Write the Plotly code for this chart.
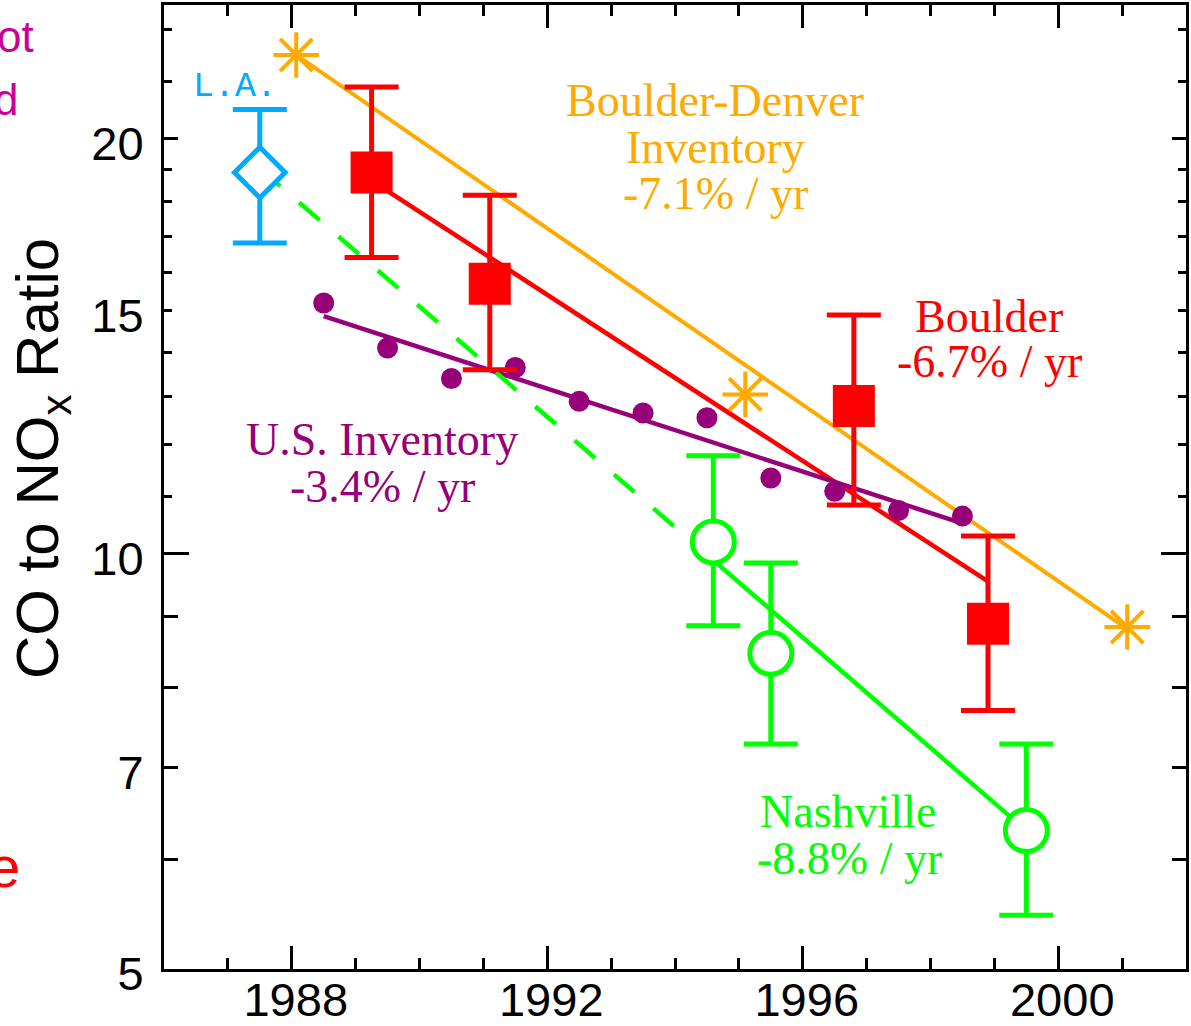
import numpy as np
import plotly.graph_objects as go

# ---------------- data ----------------
# Los Angeles measurement
LA_YEAR = [1987.5]
LA_RATIO = [18.9]
LA_HIGH = [21.0]
LA_LOW = [16.8]

# Boulder measurements (ratio with uncertainty range)
BOULDER_YEAR = [1989.25, 1991.1, 1996.8, 1998.9]
BOULDER_RATIO = [18.9, 15.7, 12.8, 8.9]
BOULDER_HIGH = [21.8, 18.2, 14.9, 10.3]
BOULDER_LOW = [16.4, 13.6, 10.85, 7.7]
BOULDER_RATE = -6.7          # % per year
BOULDER_FIT_START = 18.65    # fitted ratio at the first Boulder year

# Boulder-Denver emission inventory
BD_YEAR = [1988.07, 1995.1, 2001.08]
BD_RATIO = [23.0, 13.05, 8.85]
BD_RATE = -7.1
BD_FIT_START = 23.0

# Nashville measurements
NASH_YEAR = [1994.6, 1995.5, 1999.5]
NASH_RATIO = [10.2, 8.47, 6.3]
NASH_HIGH = [11.78, 9.85, 7.28]
NASH_LOW = [8.87, 7.28, 5.47]
NASH_RATE = -8.8
NASH_FIT_END = 6.3           # fitted ratio at the last Nashville year

# U.S. national emission inventory
US_YEAR = [1988.5, 1989.5, 1990.5, 1991.5, 1992.5, 1993.5,
           1994.5, 1995.5, 1996.5, 1997.5, 1998.5]
US_RATIO = [15.2, 14.1, 13.4, 13.65, 12.9, 12.65,
            12.55, 11.35, 11.1, 10.75, 10.65]
US_RATE = -3.4
US_FIT_START = 14.87

# axis ticks
X_MAJOR = [1988, 1992, 1996, 2000]
X_MINOR = [1987, 1989, 1990, 1991, 1993, 1994, 1995, 1997, 1998, 1999, 2001]
Y_LABELS = [5, 7, 10, 15, 20]
Y_DECADE = [10]
Y_MID = [6, 7, 8, 9, 20]
Y_SMALL = [11, 12, 13, 14, 15, 16, 17, 18, 19, 22, 24]

# ---------------- colours / fonts ----------------
RED = "#FF0000"
ORANGE = "#FFAA00"
GREEN = "#00FF00"
PURPLE = "#960078"
SKY = "#00AAFF"
MAGENTA = "#CC0099"
SERIF = "Liberation Serif, Times New Roman, serif"
SANS = "Liberation Sans, Arial, sans-serif"
MONO = "Liberation Mono, Courier New, monospace"

W, H = 1191, 1026
ML, MR, MT, MB = 164, 5, 5, 57
PW, PH = W - ML - MR, H - MT - MB


def trend(y0, t0, rate, years):
    """Constant-percentage trend evaluated at the given years."""
    return [y0 * (1 + rate / 100.0) ** (t - t0) for t in years]


def px(x):
    return (x - ML) / PW


def py(y):
    return (H - MB - y) / PH


fig = go.Figure()

# ---- trend lines ----
bd_span = [BD_YEAR[0], BD_YEAR[-1]]
fig.add_trace(go.Scatter(x=bd_span, y=trend(BD_FIT_START, BD_YEAR[0], BD_RATE, bd_span),
                         mode="lines", line=dict(color=ORANGE, width=4)))

b_span = [BOULDER_YEAR[0], BOULDER_YEAR[-1]]
fig.add_trace(go.Scatter(x=b_span, y=trend(BOULDER_FIT_START, BOULDER_YEAR[0], BOULDER_RATE, b_span),
                         mode="lines", line=dict(color=RED, width=4.5)))

us_span = [US_YEAR[0], US_YEAR[-1]]
fig.add_trace(go.Scatter(x=us_span, y=trend(US_FIT_START, US_YEAR[0], US_RATE, us_span),
                         mode="lines", line=dict(color=PURPLE, width=4.5)))

n_span = [NASH_YEAR[0], NASH_YEAR[-1]]
fig.add_trace(go.Scatter(x=n_span, y=trend(NASH_FIT_END, NASH_YEAR[-1], NASH_RATE, n_span),
                         mode="lines", line=dict(color=GREEN, width=4.5)))

# Nashville trend carried back to the L.A. year
n_back = [LA_YEAR[0], NASH_YEAR[0]]
fig.add_trace(go.Scatter(x=n_back, y=trend(NASH_FIT_END, NASH_YEAR[-1], NASH_RATE, n_back),
                         mode="lines", line=dict(color=GREEN, width=4.5, dash="27px,25px")))

# ---- measurement markers ----
def err(vals, hi, lo, color):
    return dict(type="data", symmetric=False,
                array=[h - v for v, h in zip(vals, hi)],
                arrayminus=[v - l for v, l in zip(vals, lo)],
                color=color, thickness=5, width=27)


fig.add_trace(go.Scatter(x=US_YEAR, y=US_RATIO, mode="markers",
                         marker=dict(symbol="circle", size=21, color=PURPLE)))

fig.add_trace(go.Scatter(x=BD_YEAR, y=BD_RATIO, mode="markers",
                         marker=dict(symbol="asterisk-open", size=38, color=ORANGE,
                                     line=dict(color=ORANGE, width=4))))

fig.add_trace(go.Scatter(x=BOULDER_YEAR, y=BOULDER_RATIO, mode="markers",
                         error_y=err(BOULDER_RATIO, BOULDER_HIGH, BOULDER_LOW, RED),
                         marker=dict(symbol="square", size=42, color=RED, line=dict(width=0))))

fig.add_trace(go.Scatter(x=NASH_YEAR, y=NASH_RATIO, mode="markers",
                         error_y=err(NASH_RATIO, NASH_HIGH, NASH_LOW, GREEN),
                         marker=dict(symbol="circle", size=42, color="white",
                                     line=dict(color=GREEN, width=5))))

fig.add_trace(go.Scatter(x=LA_YEAR, y=LA_RATIO, mode="markers",
                         error_y=err(LA_RATIO, LA_HIGH, LA_LOW, SKY),
                         marker=dict(symbol="diamond", size=39, color="white",
                                     line=dict(color=SKY, width=5))))

# placeholders so the tick-only overlay axes get drawn
fig.add_trace(go.Scatter(x=[None], y=[None], yaxis="y2", mode="markers"))
fig.add_trace(go.Scatter(x=[None], y=[None], yaxis="y3", mode="markers"))

# ---------------- text labels ----------------
ann = []


def label(text, x, y, color, size=46, family=SERIF, xanchor="center", angle=0):
    ann.append(dict(text=text, x=px(x), y=py(y), xref="paper", yref="paper",
                    xanchor=xanchor, yanchor="middle", showarrow=False,
                    textangle=angle, font=dict(family=family, size=size, color=color)))


label("Boulder-Denver", 715, 101, ORANGE)
label("Inventory", 715, 147, ORANGE)
label("-7.1% / yr", 715, 194, ORANGE)
label("Boulder", 989, 317, RED)
label("-6.7% / yr", 989, 361, RED)
label("U.S. Inventory", 382, 440, PURPLE)
label("-3.4% / yr", 382, 486, PURPLE)
label("Nashville", 848, 811, GREEN)
label("-8.8% / yr", 849, 858, GREEN)
label("L.A.", 235, 87, SKY, size=35, family=MONO)
label("CO to NO<sub>x</sub> Ratio", 42, 459, "black", size=60, family=SANS, angle=-90)
# pieces of neighbouring panel text at the left edge
label("ot", 36, 37, MAGENTA, size=44, family=SANS, xanchor="right")
label("d", 20, 100, MAGENTA, size=44, family=SANS, xanchor="right")
label("e", 22, 866, RED, size=58, family=SANS, xanchor="right")

# ---------------- layout ----------------
y_range = [np.log10(5), np.log10(25)]
tick_axis = dict(type="log", range=y_range, overlaying="y", anchor="x", side="left",
                 showgrid=False, zeroline=False, showline=False, showticklabels=False,
                 ticks="inside", tickwidth=3, tickcolor="black", mirror="ticks",
                 tickmode="array", automargin=False)

fig.update_layout(
    width=W, height=H,
    margin=dict(l=ML, r=MR, t=MT, b=MB, autoexpand=False),
    paper_bgcolor="white", plot_bgcolor="white",
    showlegend=False,
    annotations=ann,
    xaxis=dict(range=[1986, 2002], showgrid=False, zeroline=False, automargin=False,
               showline=True, linewidth=3, linecolor="black", mirror="ticks",
               tickmode="array", tickvals=X_MAJOR, ticks="inside", ticklen=23,
               tickwidth=3, tickcolor="black",
               minor=dict(tickmode="array", tickvals=X_MINOR, ticks="inside",
                          ticklen=11, tickwidth=3, tickcolor="black", showgrid=False),
               tickfont=dict(family=SANS, size=47, color="black"),
               ticklabelstandoff=-12, ticklabelshift=4),
    yaxis=dict(type="log", range=y_range, showgrid=False, zeroline=False, automargin=False,
               showline=True, linewidth=3, linecolor="black", mirror=True,
               tickmode="array", tickvals=Y_LABELS, ticktext=[str(v) for v in Y_LABELS],
               ticks="", tickfont=dict(family=SANS, size=47, color="black"),
               ticklabelshift=5, ticklabelstandoff=8),
    yaxis2=dict(tick_axis, tickvals=Y_DECADE, ticklen=25,
                minor=dict(tickmode="array", tickvals=Y_SMALL, ticks="inside",
                           ticklen=8, tickwidth=3, tickcolor="black", showgrid=False)),
    yaxis3=dict(tick_axis, tickvals=Y_MID, ticklen=14),
)

fig.write_html("out.html")
